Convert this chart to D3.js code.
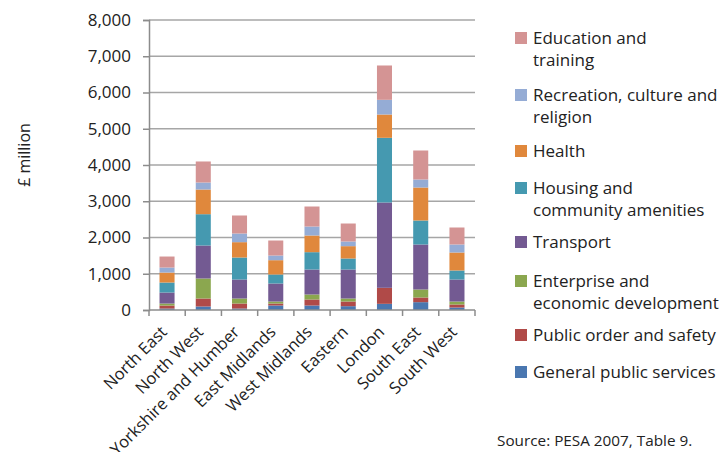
<!DOCTYPE html>
<html>
<head>
<meta charset="utf-8">
<script src="https://cdn.jsdelivr.net/npm/d3@7"></script>
<style>
  html, body { margin: 0; padding: 0; background: #fff; }
  svg { display: block; font-family: "Open Sans", "Noto Sans", sans-serif; }
</style>
</head>
<body>
<svg id="chart" width="721" height="452"></svg>
<script>
// Regional spending by function, £ million
const regions = ["North East", "North West", "Yorkshire and Humber", "East Midlands",
  "West Midlands", "Eastern", "London", "South East", "South West"];

const seriesNames = ["General public services", "Public order and safety",
  "Enterprise and economic development", "Transport", "Housing and community amenities",
  "Health", "Recreation, culture and religion", "Education and training"];

const generalPublic   = [40, 97, 41, 124, 124, 105, 170, 216, 69];
const publicOrder     = [83, 220, 138, 55, 166, 129, 442, 129, 83];
const enterprise      = [55, 552, 138, 55, 138, 83, 0, 221, 82];
const transport       = [304, 910, 524, 497, 689, 800, 2354, 1241, 607];
const housing         = [276, 864, 607, 248, 478, 304, 1784, 662, 249];
const health          = [275, 681, 423, 395, 460, 340, 643, 910, 496];
const recreation      = [138, 193, 239, 129, 248, 129, 405, 221, 221];
const education       = [304, 580, 497, 414, 552, 496, 947, 800, 469];

const yTicks = [0, 1000, 2000, 3000, 4000, 5000, 6000, 7000, 8000];

const legendLines = [
  ["Education and", "training"],
  ["Recreation, culture and", "religion"],
  ["Health"],
  ["Housing and", "community amenities"],
  ["Transport"],
  ["Enterprise and", "economic development"],
  ["Public order and safety"],
  ["General public services"]
];

const colors = ["#4a77b0", "#b04a48", "#8ba74f", "#735a92", "#4599b0",
  "#e0883c", "#95acd5", "#d49494"];

const valueArrays = [generalPublic, publicOrder, enterprise, transport, housing,
  health, recreation, education];

const table = regions.map((r, i) => {
  const row = { region: r };
  seriesNames.forEach((s, k) => { row[s] = valueArrays[k][i]; });
  return row;
});

const svg = d3.select("#chart");
const plotLeft = 149, plotRight = 475, plotTop = 20, plotBottom = 310;

const x = d3.scaleBand().domain(regions).range([plotLeft, plotRight]).paddingInner(0.585).paddingOuter(0.29);
const y = d3.scaleLinear().domain([0, 8000]).range([plotBottom, plotTop]);

// gridlines
svg.append("g")
  .selectAll("line")
  .data(yTicks.filter(d => d > 0))
  .join("line")
  .attr("x1", plotLeft).attr("x2", plotRight)
  .attr("y1", d => y(d)).attr("y2", d => y(d))
  .attr("stroke", "#a6a6a6").attr("stroke-width", 1.5);

// stacked bars
const stack = d3.stack().keys(seriesNames)(table);
svg.append("g")
  .selectAll("g")
  .data(stack)
  .join("g")
  .attr("fill", (d, i) => colors[i])
  .selectAll("rect")
  .data(d => d)
  .join("rect")
  .attr("x", d => x(d.data.region))
  .attr("width", x.bandwidth())
  .attr("y", d => y(d[1]))
  .attr("height", d => y(d[0]) - y(d[1]));

// y axis
const yAxis = svg.append("g")
  .attr("transform", `translate(${plotLeft},0)`)
  .call(d3.axisLeft(y).tickValues(yTicks).tickFormat(d3.format(",")).tickSize(6).tickPadding(12));
yAxis.select(".domain").attr("stroke", "#8c8c8c").attr("stroke-width", 1.5);
yAxis.selectAll(".tick line").attr("stroke", "#8c8c8c").attr("stroke-width", 1.5);
yAxis.selectAll(".tick text").attr("fill", "#222").style("font-size", "17px")
  .style("font-family", "'Open Sans', 'Noto Sans', sans-serif");

// x axis (ticks at category boundaries)
const xAxisG = svg.append("g").attr("transform", `translate(0,${plotBottom})`);
xAxisG.append("line").attr("x1", plotLeft).attr("x2", plotRight)
  .attr("stroke", "#8c8c8c").attr("stroke-width", 1.5);
const boundaries = d3.range(regions.length + 1).map(i => plotLeft + i * (plotRight - plotLeft) / regions.length);
xAxisG.selectAll("line.tk").data(boundaries).join("line").attr("class", "tk")
  .attr("x1", d => d).attr("x2", d => d).attr("y1", 0).attr("y2", 6)
  .attr("stroke", "#8c8c8c").attr("stroke-width", 1.5);
xAxisG.selectAll("text").data(regions).join("text")
  .attr("transform", d => `translate(${x(d) + x.bandwidth() / 2 + 1},${23}) rotate(-45)`)
  .attr("text-anchor", "end")
  .attr("fill", "#222")
  .style("font-size", "16.5px")
  .text(d => d);

// y axis title
svg.append("text")
  .attr("transform", "translate(30,155) rotate(-90)")
  .attr("text-anchor", "middle")
  .attr("fill", "#222")
  .style("font-size", "16px")
  .text("£ million");

// legend
const legendY = [38, 95, 151, 188, 242, 281, 335, 372];
const legend = svg.append("g");
legendLines.forEach((lines, i) => {
  const color = colors[colors.length - 1 - i];
  const g = legend.append("g").attr("transform", `translate(515,${legendY[i]})`);
  g.append("rect").attr("x", 0).attr("y", -6).attr("width", 12).attr("height", 12).attr("fill", color);
  const t = g.append("text").attr("x", 18).attr("y", 6).attr("fill", "#222").style("font-size", "17px");
  lines.forEach((ln, j) => {
    t.append("tspan").attr("x", 18).attr("dy", j === 0 ? 0 : 22).text(ln);
  });
});

// source note
svg.append("text")
  .attr("x", 497).attr("y", 446)
  .attr("fill", "#222")
  .style("font-size", "15.3px")
  .text("Source: PESA 2007, Table 9.");
</script>
</body>
</html>
